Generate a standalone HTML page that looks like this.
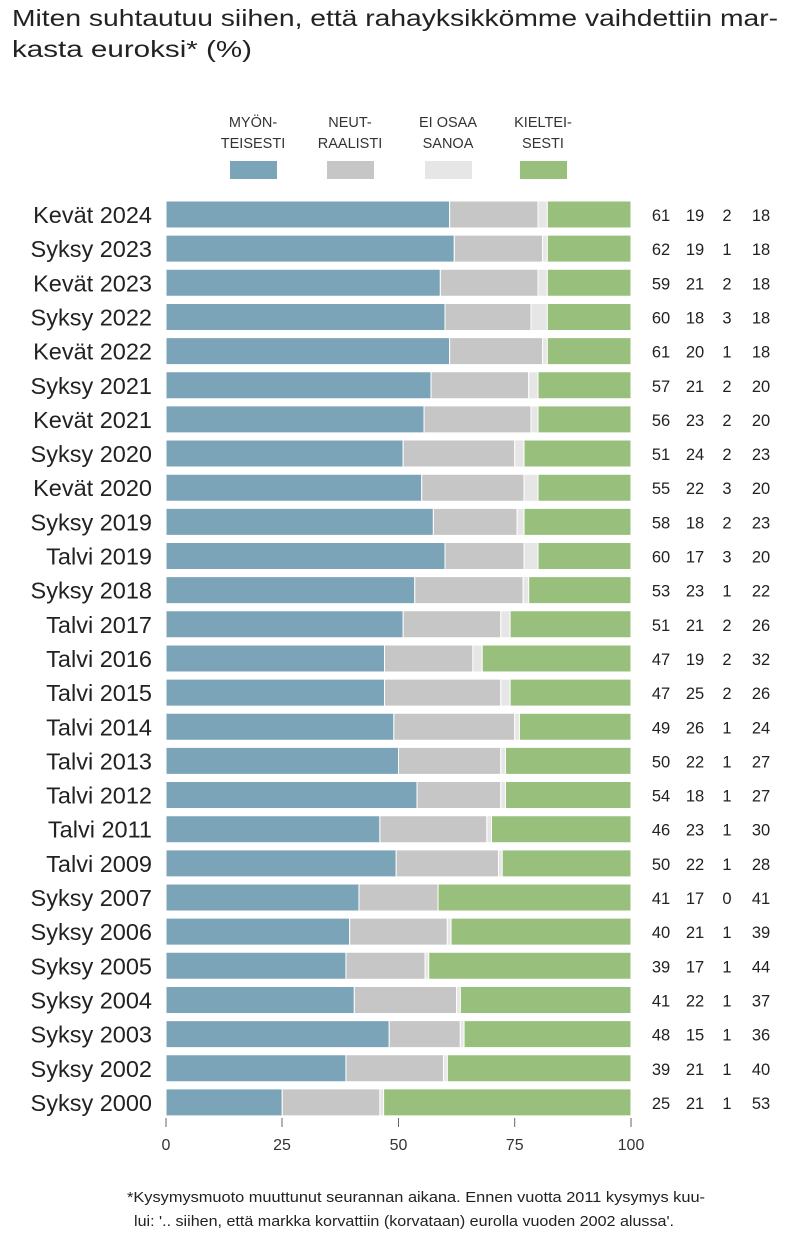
<!DOCTYPE html>
<html><head><meta charset="utf-8"><style>
body{margin:0;background:#fff;}
svg{display:block;font-family:"Liberation Sans",sans-serif;}
</style></head><body>
<svg width="800" height="1249" viewBox="0 0 800 1249" xmlns="http://www.w3.org/2000/svg">
<text x="12" y="26" font-size="23" fill="#222" textLength="766" lengthAdjust="spacingAndGlyphs">Miten suhtautuu siihen, että rahayksikkömme vaihdettiin mar-</text>
<text x="12" y="57" font-size="23" fill="#222" textLength="240" lengthAdjust="spacingAndGlyphs">kasta euroksi* (%)</text>
<g font-size="14.5" fill="#333" text-anchor="middle">
<text x="253" y="127">MYÖN-</text><text x="253" y="148">TEISESTI</text>
<text x="350" y="127">NEUT-</text><text x="350" y="148">RAALISTI</text>
<text x="448" y="127">EI OSAA</text><text x="448" y="148">SANOA</text>
<text x="543" y="127">KIELTEI-</text><text x="543" y="148">SESTI</text>
</g>
<rect x="230" y="161" width="47" height="18" fill="#7ba4b8"/>
<rect x="327" y="161" width="47" height="18" fill="#c6c6c6"/>
<rect x="425" y="161" width="47" height="18" fill="#e6e6e6"/>
<rect x="520" y="161" width="47" height="18" fill="#98c07c"/>
<defs>
<style>
.b{fill:#7ba4b8}.g{fill:#c6c6c6}.l{fill:#e6e6e6}.k{fill:#98c07c}
.s rect{stroke:#fff;stroke-width:1;vector-effect:non-scaling-stroke}
.lab{font-size:23.5px;fill:#222;text-anchor:end}
.n{font-size:16.5px;fill:#222;text-anchor:middle}
</style>
</defs>
<g id="rows">
<g transform="translate(0,201)"><g class="s" transform="translate(166,0) scale(4.65,1)"><rect class="b" x="0" width="61" height="27"/><rect class="g" x="61" width="19" height="27"/><rect class="l" x="80" width="2" height="27"/><rect class="k" x="82" width="18" height="27"/></g><text class="lab" x="152" y="22">Kevät 2024</text><text class="n" x="661" y="20">61</text><text class="n" x="695" y="20">19</text><text class="n" x="727" y="20">2</text><text class="n" x="761" y="20">18</text></g>
<g transform="translate(0,235.15)"><g class="s" transform="translate(166,0) scale(4.65,1)"><rect class="b" x="0" width="62" height="27"/><rect class="g" x="62" width="19" height="27"/><rect class="l" x="81" width="1" height="27"/><rect class="k" x="82" width="18" height="27"/></g><text class="lab" x="152" y="22">Syksy 2023</text><text class="n" x="661" y="20">62</text><text class="n" x="695" y="20">19</text><text class="n" x="727" y="20">1</text><text class="n" x="761" y="20">18</text></g>
<g transform="translate(0,269.3)"><g class="s" transform="translate(166,0) scale(4.65,1)"><rect class="b" x="0" width="59" height="27"/><rect class="g" x="59" width="21" height="27"/><rect class="l" x="80" width="2" height="27"/><rect class="k" x="82" width="18" height="27"/></g><text class="lab" x="152" y="22">Kevät 2023</text><text class="n" x="661" y="20">59</text><text class="n" x="695" y="20">21</text><text class="n" x="727" y="20">2</text><text class="n" x="761" y="20">18</text></g>
<g transform="translate(0,303.45)"><g class="s" transform="translate(166,0) scale(4.65,1)"><rect class="b" x="0" width="60" height="27"/><rect class="g" x="60" width="18.5" height="27"/><rect class="l" x="78.5" width="3.5" height="27"/><rect class="k" x="82" width="18" height="27"/></g><text class="lab" x="152" y="22">Syksy 2022</text><text class="n" x="661" y="20">60</text><text class="n" x="695" y="20">18</text><text class="n" x="727" y="20">3</text><text class="n" x="761" y="20">18</text></g>
<g transform="translate(0,337.6)"><g class="s" transform="translate(166,0) scale(4.65,1)"><rect class="b" x="0" width="61" height="27"/><rect class="g" x="61" width="20" height="27"/><rect class="l" x="81" width="1" height="27"/><rect class="k" x="82" width="18" height="27"/></g><text class="lab" x="152" y="22">Kevät 2022</text><text class="n" x="661" y="20">61</text><text class="n" x="695" y="20">20</text><text class="n" x="727" y="20">1</text><text class="n" x="761" y="20">18</text></g>
<g transform="translate(0,371.75)"><g class="s" transform="translate(166,0) scale(4.65,1)"><rect class="b" x="0" width="57" height="27"/><rect class="g" x="57" width="21" height="27"/><rect class="l" x="78" width="2" height="27"/><rect class="k" x="80" width="20" height="27"/></g><text class="lab" x="152" y="22">Syksy 2021</text><text class="n" x="661" y="20">57</text><text class="n" x="695" y="20">21</text><text class="n" x="727" y="20">2</text><text class="n" x="761" y="20">20</text></g>
<g transform="translate(0,405.9)"><g class="s" transform="translate(166,0) scale(4.65,1)"><rect class="b" x="0" width="55.5" height="27"/><rect class="g" x="55.5" width="23" height="27"/><rect class="l" x="78.5" width="1.5" height="27"/><rect class="k" x="80" width="20" height="27"/></g><text class="lab" x="152" y="22">Kevät 2021</text><text class="n" x="661" y="20">56</text><text class="n" x="695" y="20">23</text><text class="n" x="727" y="20">2</text><text class="n" x="761" y="20">20</text></g>
<g transform="translate(0,440.05)"><g class="s" transform="translate(166,0) scale(4.65,1)"><rect class="b" x="0" width="51" height="27"/><rect class="g" x="51" width="24" height="27"/><rect class="l" x="75" width="2" height="27"/><rect class="k" x="77" width="23" height="27"/></g><text class="lab" x="152" y="22">Syksy 2020</text><text class="n" x="661" y="20">51</text><text class="n" x="695" y="20">24</text><text class="n" x="727" y="20">2</text><text class="n" x="761" y="20">23</text></g>
<g transform="translate(0,474.2)"><g class="s" transform="translate(166,0) scale(4.65,1)"><rect class="b" x="0" width="55" height="27"/><rect class="g" x="55" width="22" height="27"/><rect class="l" x="77" width="3" height="27"/><rect class="k" x="80" width="20" height="27"/></g><text class="lab" x="152" y="22">Kevät 2020</text><text class="n" x="661" y="20">55</text><text class="n" x="695" y="20">22</text><text class="n" x="727" y="20">3</text><text class="n" x="761" y="20">20</text></g>
<g transform="translate(0,508.35)"><g class="s" transform="translate(166,0) scale(4.65,1)"><rect class="b" x="0" width="57.5" height="27"/><rect class="g" x="57.5" width="18" height="27"/><rect class="l" x="75.5" width="1.5" height="27"/><rect class="k" x="77" width="23" height="27"/></g><text class="lab" x="152" y="22">Syksy 2019</text><text class="n" x="661" y="20">58</text><text class="n" x="695" y="20">18</text><text class="n" x="727" y="20">2</text><text class="n" x="761" y="20">23</text></g>
<g transform="translate(0,542.5)"><g class="s" transform="translate(166,0) scale(4.65,1)"><rect class="b" x="0" width="60" height="27"/><rect class="g" x="60" width="17" height="27"/><rect class="l" x="77" width="3" height="27"/><rect class="k" x="80" width="20" height="27"/></g><text class="lab" x="152" y="22">Talvi 2019</text><text class="n" x="661" y="20">60</text><text class="n" x="695" y="20">17</text><text class="n" x="727" y="20">3</text><text class="n" x="761" y="20">20</text></g>
<g transform="translate(0,576.65)"><g class="s" transform="translate(166,0) scale(4.65,1)"><rect class="b" x="0" width="53.5" height="27"/><rect class="g" x="53.5" width="23.3" height="27"/><rect class="l" x="76.8" width="1.2" height="27"/><rect class="k" x="78" width="22" height="27"/></g><text class="lab" x="152" y="22">Syksy 2018</text><text class="n" x="661" y="20">53</text><text class="n" x="695" y="20">23</text><text class="n" x="727" y="20">1</text><text class="n" x="761" y="20">22</text></g>
<g transform="translate(0,610.8)"><g class="s" transform="translate(166,0) scale(4.65,1)"><rect class="b" x="0" width="51" height="27"/><rect class="g" x="51" width="21" height="27"/><rect class="l" x="72" width="2" height="27"/><rect class="k" x="74" width="26" height="27"/></g><text class="lab" x="152" y="22">Talvi 2017</text><text class="n" x="661" y="20">51</text><text class="n" x="695" y="20">21</text><text class="n" x="727" y="20">2</text><text class="n" x="761" y="20">26</text></g>
<g transform="translate(0,644.95)"><g class="s" transform="translate(166,0) scale(4.65,1)"><rect class="b" x="0" width="47" height="27"/><rect class="g" x="47" width="19" height="27"/><rect class="l" x="66" width="2" height="27"/><rect class="k" x="68" width="32" height="27"/></g><text class="lab" x="152" y="22">Talvi 2016</text><text class="n" x="661" y="20">47</text><text class="n" x="695" y="20">19</text><text class="n" x="727" y="20">2</text><text class="n" x="761" y="20">32</text></g>
<g transform="translate(0,679.1)"><g class="s" transform="translate(166,0) scale(4.65,1)"><rect class="b" x="0" width="47" height="27"/><rect class="g" x="47" width="25" height="27"/><rect class="l" x="72" width="2" height="27"/><rect class="k" x="74" width="26" height="27"/></g><text class="lab" x="152" y="22">Talvi 2015</text><text class="n" x="661" y="20">47</text><text class="n" x="695" y="20">25</text><text class="n" x="727" y="20">2</text><text class="n" x="761" y="20">26</text></g>
<g transform="translate(0,713.25)"><g class="s" transform="translate(166,0) scale(4.65,1)"><rect class="b" x="0" width="49" height="27"/><rect class="g" x="49" width="26" height="27"/><rect class="l" x="75" width="1" height="27"/><rect class="k" x="76" width="24" height="27"/></g><text class="lab" x="152" y="22">Talvi 2014</text><text class="n" x="661" y="20">49</text><text class="n" x="695" y="20">26</text><text class="n" x="727" y="20">1</text><text class="n" x="761" y="20">24</text></g>
<g transform="translate(0,747.4)"><g class="s" transform="translate(166,0) scale(4.65,1)"><rect class="b" x="0" width="50" height="27"/><rect class="g" x="50" width="22" height="27"/><rect class="l" x="72" width="1" height="27"/><rect class="k" x="73" width="27" height="27"/></g><text class="lab" x="152" y="22">Talvi 2013</text><text class="n" x="661" y="20">50</text><text class="n" x="695" y="20">22</text><text class="n" x="727" y="20">1</text><text class="n" x="761" y="20">27</text></g>
<g transform="translate(0,781.55)"><g class="s" transform="translate(166,0) scale(4.65,1)"><rect class="b" x="0" width="54" height="27"/><rect class="g" x="54" width="18" height="27"/><rect class="l" x="72" width="1" height="27"/><rect class="k" x="73" width="27" height="27"/></g><text class="lab" x="152" y="22">Talvi 2012</text><text class="n" x="661" y="20">54</text><text class="n" x="695" y="20">18</text><text class="n" x="727" y="20">1</text><text class="n" x="761" y="20">27</text></g>
<g transform="translate(0,815.7)"><g class="s" transform="translate(166,0) scale(4.65,1)"><rect class="b" x="0" width="46" height="27"/><rect class="g" x="46" width="23" height="27"/><rect class="l" x="69" width="1" height="27"/><rect class="k" x="70" width="30" height="27"/></g><text class="lab" x="152" y="22">Talvi 2011</text><text class="n" x="661" y="20">46</text><text class="n" x="695" y="20">23</text><text class="n" x="727" y="20">1</text><text class="n" x="761" y="20">30</text></g>
<g transform="translate(0,849.85)"><g class="s" transform="translate(166,0) scale(4.65,1)"><rect class="b" x="0" width="49.5" height="27"/><rect class="g" x="49.5" width="22" height="27"/><rect class="l" x="71.5" width="0.8" height="27"/><rect class="k" x="72.3" width="27.7" height="27"/></g><text class="lab" x="152" y="22">Talvi 2009</text><text class="n" x="661" y="20">50</text><text class="n" x="695" y="20">22</text><text class="n" x="727" y="20">1</text><text class="n" x="761" y="20">28</text></g>
<g transform="translate(0,884)"><g class="s" transform="translate(166,0) scale(4.65,1)"><rect class="b" x="0" width="41.5" height="27"/><rect class="g" x="41.5" width="17" height="27"/><rect class="k" x="58.5" width="41.5" height="27"/></g><text class="lab" x="152" y="22">Syksy 2007</text><text class="n" x="661" y="20">41</text><text class="n" x="695" y="20">17</text><text class="n" x="727" y="20">0</text><text class="n" x="761" y="20">41</text></g>
<g transform="translate(0,918.15)"><g class="s" transform="translate(166,0) scale(4.65,1)"><rect class="b" x="0" width="39.5" height="27"/><rect class="g" x="39.5" width="21" height="27"/><rect class="l" x="60.5" width="0.8" height="27"/><rect class="k" x="61.3" width="38.7" height="27"/></g><text class="lab" x="152" y="22">Syksy 2006</text><text class="n" x="661" y="20">40</text><text class="n" x="695" y="20">21</text><text class="n" x="727" y="20">1</text><text class="n" x="761" y="20">39</text></g>
<g transform="translate(0,952.3)"><g class="s" transform="translate(166,0) scale(4.65,1)"><rect class="b" x="0" width="38.7" height="27"/><rect class="g" x="38.7" width="17" height="27"/><rect class="l" x="55.7" width="0.8" height="27"/><rect class="k" x="56.5" width="43.5" height="27"/></g><text class="lab" x="152" y="22">Syksy 2005</text><text class="n" x="661" y="20">39</text><text class="n" x="695" y="20">17</text><text class="n" x="727" y="20">1</text><text class="n" x="761" y="20">44</text></g>
<g transform="translate(0,986.45)"><g class="s" transform="translate(166,0) scale(4.65,1)"><rect class="b" x="0" width="40.5" height="27"/><rect class="g" x="40.5" width="22" height="27"/><rect class="l" x="62.5" width="0.8" height="27"/><rect class="k" x="63.3" width="36.7" height="27"/></g><text class="lab" x="152" y="22">Syksy 2004</text><text class="n" x="661" y="20">41</text><text class="n" x="695" y="20">22</text><text class="n" x="727" y="20">1</text><text class="n" x="761" y="20">37</text></g>
<g transform="translate(0,1020.6)"><g class="s" transform="translate(166,0) scale(4.65,1)"><rect class="b" x="0" width="48" height="27"/><rect class="g" x="48" width="15.3" height="27"/><rect class="l" x="63.3" width="0.8" height="27"/><rect class="k" x="64.1" width="35.9" height="27"/></g><text class="lab" x="152" y="22">Syksy 2003</text><text class="n" x="661" y="20">48</text><text class="n" x="695" y="20">15</text><text class="n" x="727" y="20">1</text><text class="n" x="761" y="20">36</text></g>
<g transform="translate(0,1054.75)"><g class="s" transform="translate(166,0) scale(4.65,1)"><rect class="b" x="0" width="38.7" height="27"/><rect class="g" x="38.7" width="21" height="27"/><rect class="l" x="59.7" width="0.8" height="27"/><rect class="k" x="60.5" width="39.5" height="27"/></g><text class="lab" x="152" y="22">Syksy 2002</text><text class="n" x="661" y="20">39</text><text class="n" x="695" y="20">21</text><text class="n" x="727" y="20">1</text><text class="n" x="761" y="20">40</text></g>
<g transform="translate(0,1088.9)"><g class="s" transform="translate(166,0) scale(4.65,1)"><rect class="b" x="0" width="25" height="27"/><rect class="g" x="25" width="21" height="27"/><rect class="l" x="46" width="0.8" height="27"/><rect class="k" x="46.8" width="53.2" height="27"/></g><text class="lab" x="152" y="22">Syksy 2000</text><text class="n" x="661" y="20">25</text><text class="n" x="695" y="20">21</text><text class="n" x="727" y="20">1</text><text class="n" x="761" y="20">53</text></g>
</g>
<g stroke="#666" stroke-width="1">
<line x1="166" y1="1118" x2="166" y2="1127"/>
<line x1="282" y1="1118" x2="282" y2="1127"/>
<line x1="398.5" y1="1118" x2="398.5" y2="1127"/>
<line x1="514.7" y1="1118" x2="514.7" y2="1127"/>
<line x1="631" y1="1118" x2="631" y2="1127"/>
</g>
<g font-size="16" fill="#333" text-anchor="middle">
<text x="166" y="1150">0</text><text x="282" y="1150">25</text><text x="398.5" y="1150">50</text><text x="514.7" y="1150">75</text><text x="631" y="1150">100</text>
</g>
<text x="127" y="1202" font-size="15" fill="#222" textLength="578" lengthAdjust="spacingAndGlyphs">*Kysymysmuoto muuttunut seurannan aikana. Ennen vuotta 2011 kysymys kuu-</text>
<text x="134" y="1226" font-size="15" fill="#222" textLength="540" lengthAdjust="spacingAndGlyphs">lui: '.. siihen, että markka korvattiin (korvataan) eurolla vuoden 2002 alussa'.</text>
</svg>
</body></html>
